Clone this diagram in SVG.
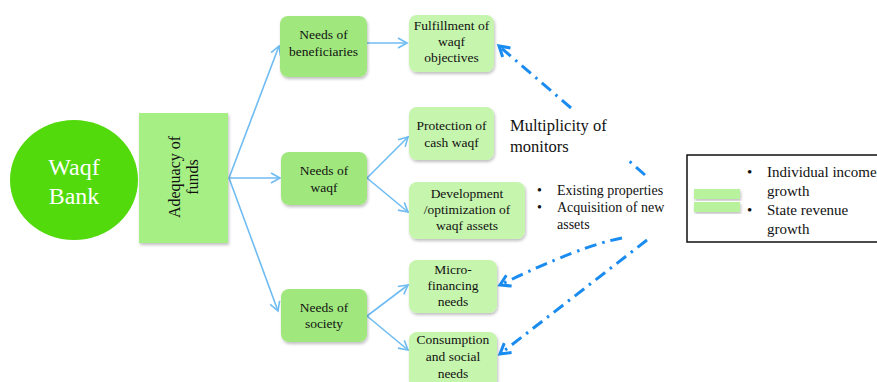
<svg xmlns="http://www.w3.org/2000/svg" width="877" height="382" viewBox="0 0 877 382" font-family="'Liberation Serif', 'Times New Roman', serif">
<style>
  text { font-family: "Liberation Serif", "Times New Roman", serif; fill: #111; }
  .node { font-size: 13.5px; text-anchor: middle; }
  .mid { fill: #a0e87e; }
  .leaf { fill: #c6f5ae; }
  .solid { stroke: #6fbcf2; stroke-width: 1.6; fill: none; marker-end: url(#openArrow); }
  .dash { stroke: #1a8cf0; stroke-width: 3; fill: none; stroke-dasharray: 12 6 2.5 6; marker-end: url(#dashArrow); }
</style>
<defs>
  <filter id="sh" x="-10%" y="-10%" width="130%" height="130%">
    <feDropShadow dx="1" dy="2" stdDeviation="1.5" flood-color="#000" flood-opacity="0.25"/>
  </filter>
  <marker id="openArrow" markerUnits="userSpaceOnUse" markerWidth="14" markerHeight="14" refX="10" refY="6" orient="auto">
    <path d="M1,1 L10,6 L1,11" fill="none" stroke="#6fbcf2" stroke-width="1.6"/>
  </marker>
  <marker id="dashArrow" markerUnits="userSpaceOnUse" markerWidth="18" markerHeight="18" refX="12" refY="8" orient="auto">
    <path d="M2,2 L12,8 L2,14" fill="none" stroke="#1a8cf0" stroke-width="3"/>
  </marker>
</defs>
<rect width="877" height="382" fill="#ffffff"/>

<g id="connectors">
  <path class="solid" d="M229,178 L279,46"/>
  <path class="solid" d="M229,178 L280,178"/>
  <path class="solid" d="M229,178 L278,311"/>
  <path class="solid" d="M367,43 L407,43"/>
  <path class="solid" d="M367,178 L408,137"/>
  <path class="solid" d="M367,178 L408,212"/>
  <path class="solid" d="M367,316 L408,285"/>
  <path class="solid" d="M367,316 L408,350"/>
  <path class="dash" d="M645,175 L627,159 M571,108 L499,46"/>
  <path class="dash" d="M622,238 Q580,246 500,285"/>
  <path class="dash" d="M647,240 L500,354"/>
</g>

<g id="waqf-bank">
  <ellipse cx="74" cy="180" rx="64" ry="60" fill="#52da0c"/>
  <text x="74" y="175" font-size="24" text-anchor="middle" style="fill:#ffffff">Waqf</text>
  <text x="74" y="204" font-size="24" text-anchor="middle" style="fill:#ffffff">Bank</text>
</g>

<g id="adequacy">
  <rect x="139" y="113" width="89" height="130" fill="#a6ef85" filter="url(#sh)"/>
  <text transform="translate(180,177) rotate(-90)" font-size="16" text-anchor="middle">Adequacy of</text>
  <text transform="translate(198,177) rotate(-90)" font-size="16" text-anchor="middle">funds</text>
</g>

<g id="needs-beneficiaries">
  <rect class="mid" x="280" y="16" width="87" height="61" rx="8" filter="url(#sh)"/>
  <text class="node" x="323.5" y="39">Needs of</text>
  <text class="node" x="323.5" y="56">beneficiaries</text>
</g>

<g id="fulfillment">
  <rect class="leaf" x="409" y="15" width="85" height="57" rx="8" filter="url(#sh)"/>
  <text class="node" x="451.5" y="30">Fulfillment of</text>
  <text class="node" x="451.5" y="46">waqf</text>
  <text class="node" x="451.5" y="62">objectives</text>
</g>

<g id="protection">
  <rect class="leaf" x="409" y="107" width="85" height="53" rx="8" filter="url(#sh)"/>
  <text class="node" x="451.5" y="130">Protection of</text>
  <text class="node" x="451.5" y="147">cash waqf</text>
</g>

<g id="needs-waqf">
  <rect class="mid" x="281" y="152" width="86" height="53" rx="8" filter="url(#sh)"/>
  <text class="node" x="324" y="175">Needs of</text>
  <text class="node" x="324" y="192">waqf</text>
</g>

<g id="development">
  <rect class="leaf" x="409" y="182" width="116" height="57" rx="8" filter="url(#sh)"/>
  <text class="node" x="467" y="198">Development</text>
  <text class="node" x="467" y="214">/optimization of</text>
  <text class="node" x="467" y="230">waqf assets</text>
</g>

<g id="needs-society">
  <rect class="mid" x="281" y="289" width="86" height="53" rx="8" filter="url(#sh)"/>
  <text class="node" x="324" y="312">Needs of</text>
  <text class="node" x="324" y="328">society</text>
</g>

<g id="micro-financing">
  <rect class="leaf" x="409" y="260" width="88" height="53" rx="8" filter="url(#sh)"/>
  <text class="node" x="453" y="274">Micro-</text>
  <text class="node" x="453" y="290">financing</text>
  <text class="node" x="453" y="306">needs</text>
</g>

<g id="consumption">
  <rect class="leaf" x="409" y="332" width="88" height="56" rx="8" filter="url(#sh)"/>
  <text class="node" x="453" y="344">Consumption</text>
  <text class="node" x="453" y="361">and social</text>
  <text class="node" x="453" y="378">needs</text>
</g>

<g id="multiplicity">
  <text x="510" y="131" font-size="16.5">Multiplicity of</text>
  <text x="510" y="152" font-size="16.5">monitors</text>
</g>

<g id="assets-list">
  <text x="537" y="195" font-size="14">•</text>
  <text x="557" y="195" font-size="14">Existing properties</text>
  <text x="537" y="212" font-size="14">•</text>
  <text x="557" y="212" font-size="14">Acquisition of new</text>
  <text x="557" y="229" font-size="14">assets</text>
</g>

<g id="legend">
  <rect x="687" y="155" width="195" height="87" fill="#ffffff" stroke="#111" stroke-width="1.5"/>
  <rect x="694" y="189" width="46" height="10" fill="#b9f29c" filter="url(#sh)"/>
  <rect x="694" y="202" width="46" height="10" fill="#b9f29c" filter="url(#sh)"/>
  <text x="747" y="177" font-size="15">•</text>
  <text x="767" y="177" font-size="15">Individual income</text>
  <text x="767" y="196" font-size="15">growth</text>
  <text x="747" y="215" font-size="15">•</text>
  <text x="767" y="215" font-size="15">State revenue</text>
  <text x="767" y="234" font-size="15">growth</text>
</g>
</svg>
